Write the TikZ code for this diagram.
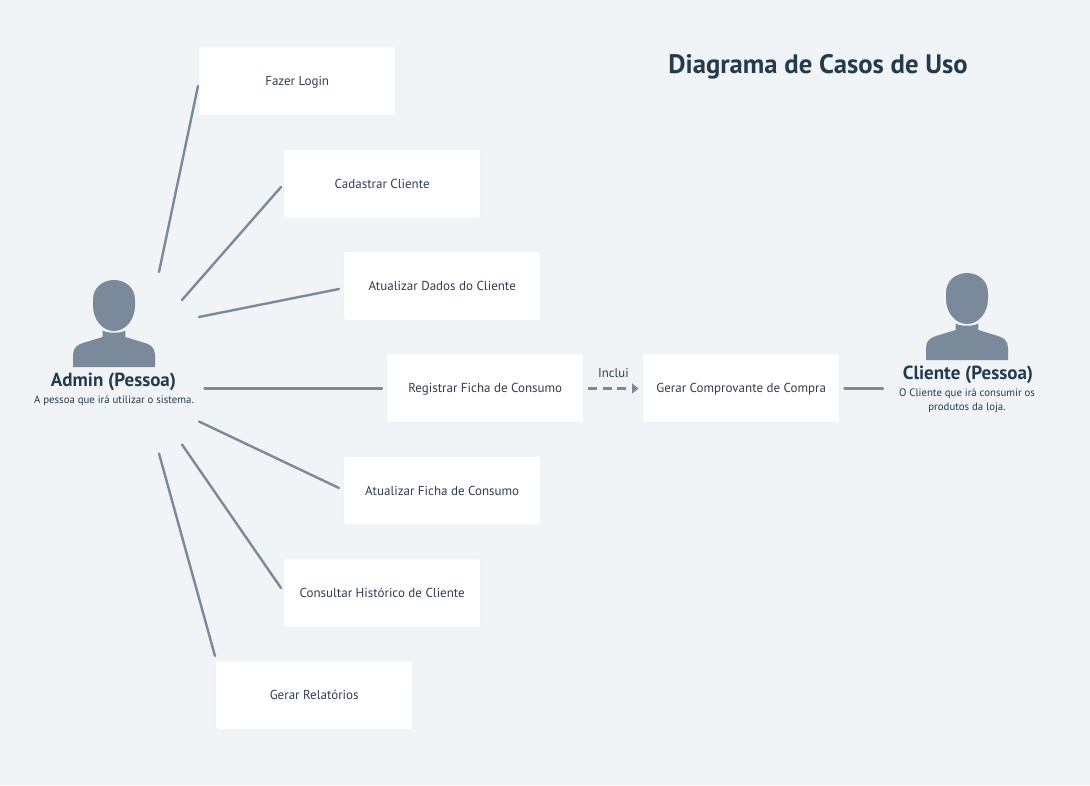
\documentclass[tikz,border=0pt]{standalone}
\usepackage{fontspec}
\setmainfont{PT Sans}
\usetikzlibrary{arrows.meta}
\definecolor{bgc}{HTML}{F0F4F7}
\definecolor{linec}{HTML}{7B8A9A}
\definecolor{ttl}{HTML}{243B4D}
\definecolor{txt}{HTML}{2F3E50}
\definecolor{shad}{HTML}{EBEFF3}
\tikzset{
  caso/.style={draw=shad,line width=0.5pt,fill=white,rounded corners=2pt,minimum width=196.5pt,minimum height=68.5pt,inner sep=0pt,text=txt,text height=9.5pt,text depth=0pt,font=\fontsize{13}{15}\selectfont},
  assoc/.style={draw=linec,line width=2.4pt,line cap=round},
  incl/.style={draw=linec,line width=2.6pt,dash pattern=on 9pt off 5.5pt,-{Triangle[length=6.5pt,width=10pt,fill=linec]}},
  actortitle/.style={text=ttl,font=\bfseries\fontsize{19}{22}\selectfont,inner sep=0pt},
  actorsub/.style={text=ttl,font=\fontsize{10.8}{13.5}\selectfont,inner sep=0pt,align=center},
  actor/.pic={
    \fill[linec] (0,-33.5) .. controls (-11,-33.5) and (-21,-26) .. (-21,-14)
      -- (-21,-8) .. controls (-21,7) and (-11,17.5) .. (0,17.5)
      .. controls (11,17.5) and (21,7) .. (21,-8)
      -- (21,-14) .. controls (21,-26) and (11,-33.5) .. (0,-33.5) -- cycle;
    \fill[linec] (-41,53.5) -- (-41,41) .. controls (-41,34) and (-36,31) .. (-31,29.5)
      -- (-11.3,23.5) -- (-11.3,17) .. controls (-7,20) and (7,20) .. (11.3,17) -- (11.3,23.5)
      -- (31,29.5) .. controls (36,31) and (41,34) .. (41,41) -- (41,53.5) -- cycle;
  }
}
\begin{document}
\begin{tikzpicture}[x=1pt,y=-1pt]
\useasboundingbox[fill=bgc] (0,0) rectangle (1090,785);
\node[caso] (b1) at (297.2,81) {Fazer Login};
\node[caso] (b2) at (382.2,183.5) {Cadastrar Cliente};
\node[caso] (b3) at (442.2,286) {Atualizar Dados do Cliente};
\node[caso] (b4) at (485.2,388) {Registrar Ficha de Consumo};
\node[caso] (b5) at (442.2,490.5) {Atualizar Ficha de Consumo};
\node[caso] (b6) at (382.2,593) {Consultar Histórico de Cliente};
\node[caso] (b7) at (314.2,695) {Gerar Relatórios};
\node[caso] (b8) at (741.2,388) {Gerar Comprovante de Compra};
\pic at (114,313.5) {actor};
\pic at (967,306.5) {actor};
\node[actortitle] (admin) at (113.5,381.5) {Admin (Pessoa)};
\node[actorsub] (admins) at (114,400.5) {A pessoa que irá utilizar o sistema.};
\node[actortitle] (cli) at (968,375) {Cliente (Pessoa)};
\node[actorsub] (clis) at (967,400.5) {O Cliente que irá consumir os\\produtos da loja.};
\node[text=ttl,font=\bfseries\fontsize{26.7}{30}\selectfont,inner sep=0pt] (title) at (818,66.5) {Diagrama de Casos de Uso};
\node[text=txt,font=\fontsize{12.8}{14}\selectfont,inner sep=0pt] (inc) at (613.5,373) {Inclui};
\coordinate (a1) at (159,272); \coordinate (e1) at (198,86);
\coordinate (a2) at (182,300); \coordinate (e2) at (281,187);
\coordinate (a3) at (199,317); \coordinate (e3) at (339,289);
\coordinate (a4) at (204.5,388.5); \coordinate (e4) at (382,388.5);
\coordinate (a5) at (199,421.5); \coordinate (e5) at (339,488);
\coordinate (a6) at (182,444.5); \coordinate (e6) at (281,588);
\coordinate (a7) at (159,453.5); \coordinate (e7) at (215,656);
\coordinate (d1) at (588,388.5); \coordinate (d2) at (638.5,388.5);
\coordinate (c1) at (844.5,388.5); \coordinate (c2) at (883,388.5);
\foreach \i in {1,...,7} {\draw[assoc] (a\i) -- (e\i);}
\draw[incl] (d1) -- (d2);
\draw[assoc] (c1) -- (c2);
\end{tikzpicture}
\end{document}
